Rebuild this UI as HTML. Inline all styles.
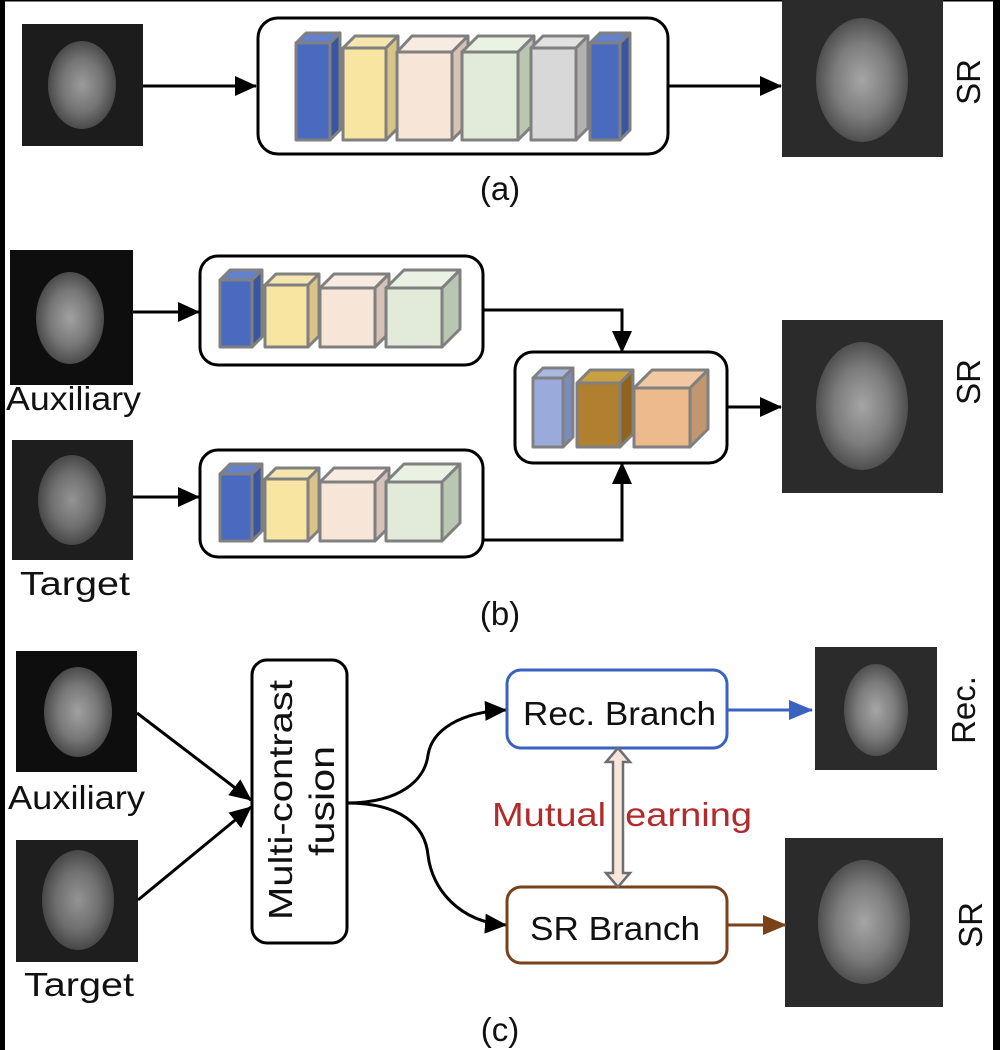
<!DOCTYPE html>
<html><head><meta charset="utf-8"><style>
html,body{margin:0;padding:0;background:#fff}
svg{display:block}
text{font-family:"Liberation Sans","DejaVu Sans",sans-serif}
</style></head><body>
<svg width="1000" height="1050" viewBox="0 0 1000 1050" xmlns="http://www.w3.org/2000/svg">
<defs>
<radialGradient id="br" cx="50%" cy="50%" r="50%">
<stop offset="0" stop-color="#bbb"/><stop offset="0.6" stop-color="#8a8a8a"/><stop offset="1" stop-color="#555"/>
</radialGradient>
<marker id="ah" markerWidth="22" markerHeight="20" refX="21" refY="10" orient="auto" markerUnits="userSpaceOnUse" viewBox="0 0 22 20"><path d="M0,0L22,10L0,20z" fill="#000"/></marker>
<marker id="ahb" markerWidth="24" markerHeight="20" refX="23" refY="10" orient="auto" markerUnits="userSpaceOnUse" viewBox="0 0 24 20"><path d="M0,0L24,10L0,20z" fill="#3a62c0"/></marker>
<marker id="ahr" markerWidth="24" markerHeight="20" refX="23" refY="10" orient="auto" markerUnits="userSpaceOnUse" viewBox="0 0 24 20"><path d="M0,0L24,10L0,20z" fill="#7a4218"/></marker>
</defs>
<rect x="0" y="0" width="1000" height="1050" fill="#fff"/>
<rect x="0" y="0" width="5" height="1050" fill="#000"/>
<rect x="993" y="0" width="7" height="1050" fill="#000"/>
<rect x="0" y="0" width="1000" height="1.5" fill="#000"/>

<g>
<rect x="22" y="24" width="121" height="122" fill="#1c1c1c"/><ellipse cx="82" cy="85" rx="34" ry="44" fill="url(#br)" opacity="0.8"/>
<rect x="782" y="0" width="161" height="157" fill="#2b2b2b"/><ellipse cx="862" cy="80" rx="46" ry="62" fill="url(#br)" opacity="0.85"/>
<rect x="10" y="250" width="123" height="135" fill="#0e0e0e"/><ellipse cx="70" cy="318" rx="34" ry="46" fill="url(#br)" opacity="0.85"/>
<rect x="12" y="440" width="121" height="120" fill="#1e1e1e"/><ellipse cx="72" cy="500" rx="34" ry="45" fill="url(#br)" opacity="0.75"/>
<rect x="782" y="320" width="161" height="173" fill="#2b2b2b"/><ellipse cx="862" cy="406" rx="46" ry="64" fill="url(#br)" opacity="0.85"/>
<rect x="16" y="651" width="121" height="121" fill="#0e0e0e"/><ellipse cx="78" cy="712" rx="34" ry="45" fill="url(#br)" opacity="0.85"/>
<rect x="16" y="840" width="122" height="122" fill="#1e1e1e"/><ellipse cx="78" cy="900" rx="36" ry="50" fill="url(#br)" opacity="0.75"/>
<rect x="815" y="647" width="122" height="123" fill="#2b2b2b"/><ellipse cx="876" cy="710" rx="32" ry="46" fill="url(#br)" opacity="0.85"/>
<rect x="785" y="838" width="158" height="169" fill="#2b2b2b"/><ellipse cx="864" cy="922" rx="46" ry="62" fill="url(#br)" opacity="0.85"/>
</g>

<g stroke="#000" stroke-width="3" fill="none">
<line x1="143" y1="86" x2="256" y2="86" marker-end="url(#ah)"/>
<rect x="258" y="18" width="410" height="136" rx="20"/>
<line x1="668" y1="86" x2="781" y2="86" marker-end="url(#ah)"/>
<line x1="133" y1="312" x2="199" y2="312" marker-end="url(#ah)"/>
<line x1="133" y1="497" x2="199" y2="497" marker-end="url(#ah)"/>
<rect x="200" y="256" width="283" height="109" rx="18"/>
<rect x="200" y="450" width="283" height="107" rx="18"/>
<polyline points="483,310 622,310 622,352" marker-end="url(#ah)"/>
<polyline points="483,540 622,540 622,463" marker-end="url(#ah)"/>
<rect x="515" y="352" width="212" height="111" rx="18"/>
<line x1="727" y1="407" x2="781" y2="407" marker-end="url(#ah)"/>
<line x1="137" y1="713" x2="251" y2="800" marker-end="url(#ah)"/>
<line x1="138" y1="900" x2="251" y2="807" marker-end="url(#ah)"/>
<rect x="252" y="660" width="95" height="283" rx="15"/>
<path d="M347,803 C400,803 425,780 428,755 C432,730 460,712 506,710" marker-end="url(#ah)"/>
<path d="M347,803 C400,803 425,825 428,855 C432,890 460,922 506,925" marker-end="url(#ah)"/>
</g>
<rect x="507" y="670" width="220" height="78" rx="14" fill="#fff" stroke="#3a62c0" stroke-width="3"/>
<rect x="507" y="887" width="220" height="76" rx="14" fill="#fff" stroke="#7a4218" stroke-width="3"/>
<line x1="727" y1="710" x2="812" y2="710" stroke="#3a62c0" stroke-width="3" marker-end="url(#ahb)"/>
<line x1="727" y1="925" x2="786" y2="925" stroke="#7a4218" stroke-width="3" marker-end="url(#ahr)"/>

<g stroke="#808080" stroke-width="3" stroke-linejoin="round">
<g><polygon points="296,43 306,33 340,33 330,43" fill="#6482cc"/><polygon points="330,43 340,33 340,130 330,140" fill="#3a56a0"/><rect x="296" y="43" width="34" height="97" fill="#4a6abf"/></g>
<g><polygon points="343,48 355,36 398,36 386,48" fill="#f5e6b0"/><polygon points="386,48 398,36 398,128 386,140" fill="#d8c488"/><rect x="343" y="48" width="43" height="92" fill="#f8e5a2"/></g>
<g><polygon points="397,52 412,36 468,36 452,52" fill="#f8ece2"/><polygon points="452,52 468,36 468,124 452,140" fill="#d6c2b6"/><rect x="397" y="52" width="55" height="88" fill="#f7e5d8"/></g>
<g><polygon points="462,52 478,36 534,36 518,52" fill="#eaf2e4"/><polygon points="518,52 534,36 534,124 518,140" fill="#b8c6b2"/><rect x="462" y="52" width="56" height="88" fill="#e2ebda"/></g>
<g><polygon points="531,48 543,36 588,36 576,48" fill="#e2e2e2"/><polygon points="576,48 588,36 588,128 576,140" fill="#b2b2b2"/><rect x="531" y="48" width="45" height="92" fill="#d8d8d8"/></g>
<g><polygon points="590,43 600,33 630,33 620,43" fill="#6482cc"/><polygon points="620,43 630,33 630,130 620,140" fill="#3a56a0"/><rect x="590" y="43" width="30" height="97" fill="#4a6abf"/></g>
<g id="bt">
<g><polygon points="220,280 230,270 262,270 252,280" fill="#6482cc"/><polygon points="252,280 262,270 262,337 252,347" fill="#3a56a0"/><rect x="220" y="280" width="32" height="67" fill="#4a6abf"/></g>
<g><polygon points="265,285 276,274 319,274 308,285" fill="#f5e6b0"/><polygon points="308,285 319,274 319,336 308,347" fill="#d8c488"/><rect x="265" y="285" width="43" height="62" fill="#f8e5a2"/></g>
<g><polygon points="320,288 334,274 389,274 375,288" fill="#f8ece2"/><polygon points="375,288 389,274 389,333 375,347" fill="#d6c2b6"/><rect x="320" y="288" width="55" height="59" fill="#f7e5d8"/></g>
<g><polygon points="386,288 404,270 460,270 442,288" fill="#eaf2e4"/><polygon points="442,288 460,270 460,329 442,347" fill="#b8c6b2"/><rect x="386" y="288" width="56" height="59" fill="#e2ebda"/></g>
</g>
<use href="#bt" transform="translate(0,194)"/>
<g><polygon points="533,378 543,368 573,368 563,378" fill="#aab9e2"/><polygon points="563,378 573,368 573,437 563,447" fill="#7a8cbc"/><rect x="533" y="378" width="30" height="69" fill="#9aabdb"/></g>
<g><polygon points="577,383 590,370 633,370 620,383" fill="#c9a040"/><polygon points="620,383 633,370 633,434 620,447" fill="#8e6420"/><rect x="577" y="383" width="43" height="64" fill="#b08030"/></g>
<g><polygon points="634,388 652,370 708,370 690,388" fill="#f2c8a2"/><polygon points="690,388 708,370 708,429 690,447" fill="#c29670"/><rect x="634" y="388" width="56" height="59" fill="#edba8c"/></g>
</g>

<g font-size="33" fill="#111">
<text x="500" y="200" text-anchor="middle">(a)</text>
<text x="500" y="625" text-anchor="middle">(b)</text>
<text x="500" y="1041" text-anchor="middle">(c)</text>
<text x="6" y="410" textLength="135" lengthAdjust="spacingAndGlyphs">Auxiliary</text>
<text x="20" y="595" textLength="110" lengthAdjust="spacingAndGlyphs">Target</text>
<text x="8" y="809" textLength="137" lengthAdjust="spacingAndGlyphs">Auxiliary</text>
<text x="24" y="996" textLength="110" lengthAdjust="spacingAndGlyphs">Target</text>
<text transform="translate(980,82) rotate(-90)" text-anchor="middle">SR</text>
<text transform="translate(980,382) rotate(-90)" text-anchor="middle">SR</text>
<text transform="translate(975,710) rotate(-90)" text-anchor="middle">Rec.</text>
<text transform="translate(982,925) rotate(-90)" text-anchor="middle">SR</text>
<text transform="translate(292,920) rotate(-90)" textLength="240" lengthAdjust="spacingAndGlyphs">Multi-contrast</text>
<text transform="translate(334,856) rotate(-90)" font-size="35" textLength="110" lengthAdjust="spacingAndGlyphs">fusion</text>
<text x="523" y="725" textLength="193" lengthAdjust="spacingAndGlyphs">Rec. Branch</text>
<text x="530" y="940" textLength="170" lengthAdjust="spacingAndGlyphs">SR Branch</text>
<text x="492" y="826" textLength="260" lengthAdjust="spacingAndGlyphs" fill="#b22a2a">Mutual learning</text>
</g>
<path d="M618,748 L630,762 L623,762 L623,873 L630,873 L618,887 L606,873 L613,873 L613,762 L606,762 Z" fill="#f8e6dc" stroke="#6e6e6e" stroke-width="2.5"/>
</svg>
</body></html>
